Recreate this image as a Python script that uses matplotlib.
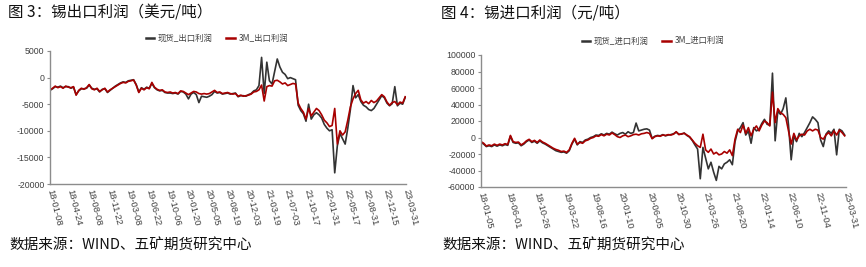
import matplotlib
matplotlib.use('Agg')
import matplotlib.pyplot as plt
import pandas as pd

plt.rcParams['font.family'] = ['Noto Sans CJK SC', 'DejaVu Sans']
plt.rcParams['axes.unicode_minus'] = False

# ---------------- data: left panel (export profit, USD/t), sampled every 14 days ----------------
left_start = '2018-01-08'
left_end = '2023-03-31'
left_spot = [-2400, -2100, -1700, -1800, -1600, -1900, -1700, -1700, -2000, -1800,
             -3200, -2500, -2100, -2100, -2000, -1400, -2000, -2200, -2100, -2700,
             -2200, -2100, -2800, -2400, -2000, -1600, -1300, -1000, -800, -900,
             -600, -500, -400, -1300, -2700, -1900, -2200, -1800, -2000, -1100,
             -1900, -2300, -2500, -2400, -2800, -2900, -2900, -3000, -2900, -3100,
             -2600, -2700, -3100, -4000, -3100, -2800, -3200, -4700, -3500, -3600,
             -3700, -3500, -3200, -2600, -2900, -2800, -3100, -3000, -2900, -3100,
             -3000, -2900, -3600, -3400, -3400, -3500, -3200, -3000, -2500, -2300,
             -1500, 3800, -3000, 2900, -600, -1200, 1200, 3500, 2000, 1000,
             600, -200, 0, -200, -400, -5200, -6200, -6800, -8200, -5000,
             -7800, -7000, -6600, -7000, -7600, -8800, -9500, -10000, -9800, -17900,
             -12800, -10500, -11500, -12500, -9500, -6000, -1500, -3800, -3200, -4500,
             -5200, -5500, -6000, -6200, -5800, -5000, -4200, -3400, -3800, -4800,
             -5300, -4900, -1700, -5300, -4800, -5000, -3700]
left_3m = [-2300, -2000, -1600, -1900, -1700, -2000, -1600, -1800, -1900, -1700,
           -3300, -2400, -2000, -2200, -1900, -1300, -2100, -2300, -2000, -2600,
           -2300, -2000, -2700, -2300, -2000, -1700, -1400, -1100, -900, -1000,
           -700, -600, -450, -1400, -2800, -2000, -2300, -1900, -2100, -900,
           -1800, -2200, -2400, -2300, -2700, -2800, -2700, -2900, -2800, -3000,
           -2500, -2600, -2900, -3200, -2900, -2600, -2700, -3000, -3100, -3000,
           -3100, -3000, -2700, -2400, -2800, -2700, -3000, -2900, -2800, -3000,
           -3100, -3000, -3500, -3300, -3500, -3400, -3300, -3100, -2700, -2600,
           -2300, -1400, -4400, -1700, -1500, -1600, -600, -500, -800, -1200,
           -1000, -1500, -1300, -1100, -1200, -4800, -5800, -6500, -7800, -5800,
           -7200, -6500, -5800, -6200, -7000, -8000, -8500, -9200, -9000, -5800,
           -12500, -10000, -10800, -10200, -8000, -5500, -4000, -3000, -2400, -4200,
           -4800, -4500, -4900, -4300, -4700, -4400, -3800, -3200, -3600, -4600,
           -5200, -4700, -4500, -5100, -4600, -4800, -3600]
left_ticks = ['18-01-08', '18-04-24', '18-08-08', '18-11-22', '19-03-08', '19-06-22',
              '19-10-06', '20-01-20', '20-05-05', '20-08-19', '20-12-03', '21-03-19',
              '21-07-03', '21-10-17', '22-01-31', '22-05-17', '22-08-31', '22-12-15',
              '23-03-31']
left_yticks = [5000, 0, -5000, -10000, -15000, -20000]

# ---------------- data: right panel (import profit, CNY/t), sampled every 14 days ----------------
right_start = '2018-01-05'
right_end = '2023-03-31'
right_spot = [-6000, -8000, -11000, -10000, -11000, -9000, -10500, -9000, -10000, -8500,
              -9500, 1500, -6000, -7000, -6500, -10000, -8000, -5000, -3000, -6000,
              -4500, -7000, -4000, -6500, -8000, -10000, -12000, -14000, -16000, -17000,
              -18000, -17500, -19000, -16000, -8000, -2000, -9000, -5000, -6000, -3000,
              -2000, 0, 1000, 3000, 2500, 4500, 3000, 5000, 4000, 6500,
              4500, 3000, 5000, 6000, 4000, 7000, 5000, 6000, 17500, 8000,
              9000, 10000, 10500, 9000, -1000, 1500, 2500, 2000, 3500, 2000,
              3000, 3500, 4500, 6500, 4000, 4000, 5500, 2500, 500, -3500,
              -9000, -14000, -50000, -12000, -25000, -38000, -30000, -42000, -52000, -35000,
              -38000, -32000, -30000, -27000, -33000, -5000, 8000, 12000, 18000, 3000,
              8000, -7000, 12000, 8000, 10000, 17000, 22000, 16000, 15000, 78000,
              -4000, 32000, 28000, 35000, 48000, 15000, -27000, 2000, -5000, 5000,
              1000, 6000, 12000, 18000, 25000, 22000, 18000, -3000, -11000, 4000,
              8000, 5000, 10000, -21000, 10000, 8000, 3000]
right_3m = [-5000, -7000, -10300, -9000, -10000, -8000, -9500, -8000, -9000, -7500,
            -8500, 2500, -5000, -6000, -5500, -9000, -7000, -4000, -2200, -5000,
            -3500, -6000, -3000, -5500, -7000, -9000, -11000, -13000, -14500, -15500,
            -17000, -16500, -18000, -15000, -7000, -1000, -8000, -6000, -7000, -4000,
            -3000, -1000, 0, 2000, 1500, 3500, 2000, 4000, 3000, 5500,
            3500, 1000, 0, 2000, 3000, 1000, 2000, 3500, 4000, 3000,
            4500, 5000, 6000, 5000, -1500, 1000, 2000, 1500, 3000, 2500,
            3500, 3000, 4000, 7000, 3500, 4500, 5000, 3000, 1000, -3000,
            -7000, -10000, -12000, 4000, -15000, -18000, -14000, -20000, -18000, -21000,
            -20000, -17000, -19000, -15000, -22000, -2000, 10000, 6000, 15000, 5000,
            12000, 2000, 10000, 14000, 8000, 15000, 20000, 18000, 14000, 55000,
            18000, 35000, 30000, 28000, 24000, 8000, -8000, 5000, -3000, 2000,
            4000, 3000, 8000, 10000, 8000, 10000, 9000, 0, -2000, 3000,
            6000, 2000, 8000, 3000, 9000, 6000, 2000]
right_ticks = ['18-01-05', '18-06-01', '18-10-26', '19-03-22', '19-08-16', '20-01-10',
               '20-06-05', '20-10-30', '21-03-26', '21-08-20', '22-01-14', '22-06-10',
               '22-11-04', '23-03-31']
right_yticks = [100000, 80000, 60000, 40000, 20000, 0, -20000, -40000, -60000]

titles = ['图 3：锡出口利润（美元/吨）', '图 4：锡进口利润（元/吨）']
legend_labels = [['现货_出口利润', '3M_出口利润'], ['现货_进口利润', '3M_进口利润']]
source = '数据来源：WIND、五矿期货研究中心'

BLACK = '#333333'
RED = '#a80000'
SPINE = '#8c8c8c'
TXT = '#404040'

fig = plt.figure(figsize=(8.66, 2.67), dpi=100)
W, H = 866, 267


def ax_rect(x0, x1, ytop, ybot):
    return [x0 / W, 1 - ybot / H, (x1 - x0) / W, (ybot - ytop) / H]


ax1 = fig.add_axes(ax_rect(50, 406, 51, 184))
ax2 = fig.add_axes(ax_rect(481, 846, 55, 187))

panels = [
    (ax1, left_start, left_end, left_spot, left_3m, left_ticks, left_yticks, (217, 38)),
    (ax2, right_start, right_end, right_spot, right_3m, right_ticks, right_yticks, (653, 41)),
]

for k, (ax, start, end, spot, m3, ticks, yticks, legpos) in enumerate(panels):
    dates = pd.date_range(start, periods=len(spot), freq='14D')
    l1, = ax.plot(dates, spot, color=BLACK, lw=1.2, label=legend_labels[k][0])
    l2, = ax.plot(dates, m3, color=RED, lw=1.2, label=legend_labels[k][1])
    ax.set_xlim(pd.Timestamp(start), pd.Timestamp(end))
    ax.set_ylim(min(yticks), max(yticks))
    ax.set_yticks(yticks)
    ax.set_yticklabels([str(v) for v in yticks], fontsize=6.3, color=TXT,
                       family=['Liberation Sans', 'DejaVu Sans'])
    tpos = [pd.Timestamp('20' + t) for t in ticks]
    ax.set_xticks(tpos)
    ax.set_xticklabels(ticks, fontsize=6.7, color=TXT, rotation=-76,
                       ha='left', va='center', rotation_mode='anchor',
                       family=['Liberation Sans', 'DejaVu Sans'])
    for s in ['top', 'right']:
        ax.spines[s].set_visible(False)
    for s in ['left', 'bottom']:
        ax.spines[s].set_color(SPINE)
        ax.spines[s].set_linewidth(1.0)
    ax.tick_params(axis='y', length=2.5, width=0.8, color=SPINE, pad=1.5)
    ax.tick_params(axis='x', length=0, pad=4)
    ax.set_facecolor('none')
    ax.legend(handles=[l1, l2], loc='center',
              bbox_to_anchor=(legpos[0] / W, 1 - legpos[1] / H),
              bbox_transform=fig.transFigure, ncol=2, frameon=False,
              fontsize=6, handlelength=1.0, handletextpad=0.5,
              columnspacing=1.6, labelcolor=TXT)
    for line in ax.get_legend().get_lines():
        line.set_linewidth(1.8)

fig.text(8 / W, 1 - 13 / H, titles[0], fontsize=11.2, va='center', ha='left', color='#111111')
fig.text(441 / W, 1 - 13 / H, titles[1], fontsize=11.2, va='center', ha='left', color='#111111')
fig.text(9 / W, 1 - 246 / H, source, fontsize=10.5, va='center', ha='left', color='#111111')
fig.text(442 / W, 1 - 246 / H, source, fontsize=10.5, va='center', ha='left', color='#111111')

fig.savefig('out.png', dpi=100, facecolor='white')
